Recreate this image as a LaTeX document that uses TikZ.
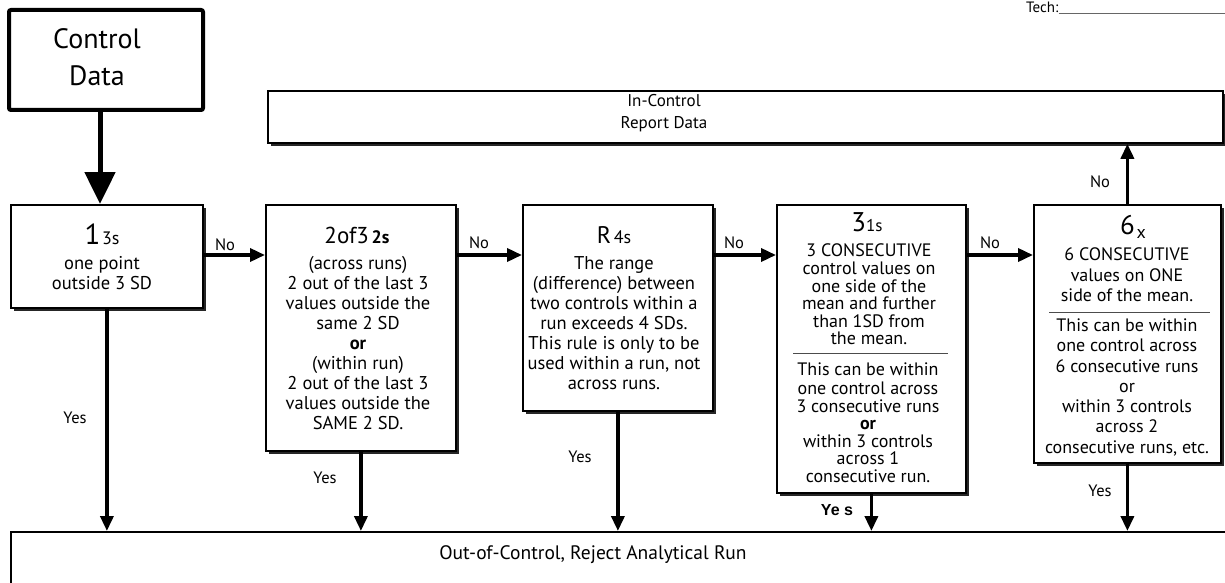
\documentclass[tikz,border=0pt]{standalone}
\usepackage{fontspec}
\setmainfont{PT Sans}
\newfontfamily\arialfont{Liberation Sans}
\usetikzlibrary{arrows.meta,shadows}
\begin{document}
\begin{tikzpicture}[x=1pt,y=-1pt,
  box/.style={draw, line width=1.8pt, fill=white, inner sep=0pt, anchor=north west,
    drop shadow={shadow xshift=3pt, shadow yshift=-3pt, fill=black!85, opacity=1}},
  body/.style={inner sep=0pt, align=center, anchor=north, font=\fontsize{18.5}{20}\selectfont},
  bodyb/.style={inner sep=0pt, align=center, anchor=north, font=\fontsize{18}{17.5}\selectfont},
  ttl/.style={inner sep=0pt, anchor=base},
  lbl/.style={inner sep=0pt, font=\fontsize{16.5}{16.5}\selectfont},
  arr/.style={line width=3.5pt, -{Triangle[length=15pt,width=13pt]}},
  bigarr/.style={line width=5pt, -{Triangle[length=32pt,width=30pt]}},
  sep/.style={line width=0.8pt, black!70}]
\useasboundingbox (0,0) rectangle (1225,583);
\clip (0,0) rectangle (1225,583);
\fill[white] (0,0) rectangle (1225,583);

% Tech line
\node[anchor=base west, inner sep=0pt, font=\fontsize{15}{15}\selectfont] (tech) at (1026,13) {Tech:};
\coordinate (techend) at (1225,13);
\draw[line width=0.8pt, black!60] (tech.base east) -- (techend);

% Control data
\node[draw, line width=4pt, rounded corners=2pt, inner sep=0pt, anchor=north west,
  minimum width=194pt, minimum height=100pt] (cd) at (7,8) {};
\node[inner sep=0pt, align=center, font=\fontsize{28}{37}\selectfont] (cdt) at (97,57) {Control\\Data};

% In-control box
\node[box, minimum width=955pt, minimum height=52pt] (ic) at (267,90) {};
\node[inner sep=0pt, align=center, font=\fontsize{17}{22}\selectfont] (ict) at (664,113) {In-Control\\Report Data};

% Rule boxes
\node[box, minimum width=192pt, minimum height=103pt] (b1) at (10,204) {};
\node[box, minimum width=190pt, minimum height=246pt] (b2) at (265,204) {};
\node[box, minimum width=190pt, minimum height=206pt] (b3) at (522,204) {};
\node[box, minimum width=189pt, minimum height=288pt] (b4) at (776,204) {};
\node[box, minimum width=187pt, minimum height=258pt] (b5) at (1033,204) {};

% Out of control box
\node[draw, line width=1.5pt, inner sep=0pt, anchor=north west,
  minimum width=1240pt, minimum height=90pt] (oc) at (10,531) {};
\node[inner sep=0pt, font=\fontsize{19.5}{19.5}\selectfont] (oct) at (593,555) {Out-of-Control, Reject Analytical Run};

% Titles
\node[ttl] (t1) at (102,244) {{\fontsize{29}{29}\selectfont 1}\,{\fontsize{18}{18}\selectfont 3s}};
\node[ttl] (t2) at (357,243) {{\fontsize{23}{23}\selectfont 2of3}\;{\fontsize{18}{18}\selectfont\bfseries 2s}};
\node[ttl] (t3) at (614,243) {{\fontsize{24}{24}\selectfont R}\;{\fontsize{18}{18}\selectfont 4s}};
\node[ttl] (t4) at (867,231) {{\fontsize{27}{27}\selectfont 3}{\fontsize{17}{17}\selectfont 1s}};
\node[ttl] (t5) at (1133,234) {{\fontsize{27}{27}\selectfont 6}\,\raisebox{-4pt}{\fontsize{18}{18}\selectfont x}};

% Bodies
\node[body] (x1) at (102,255) {\strut one point\\outside 3 SD};
\node[body] (x2) at (358,255) {\strut (across runs)\\2 out of the last 3\\values outside the\\same 2 SD\\\textbf{or}\\(within run)\\2 out of the last 3\\values outside the\\SAME 2 SD.};
\node[body] (x3) at (614,255) {\strut The range\\(difference) between\\two controls within a\\run exceeds 4 SDs.\\This rule is only to be\\used within a run, not\\across runs.};
\node[bodyb] (x4a) at (869,243) {\strut 3 CONSECUTIVE\hspace{28pt}\\control values on\\one side of the\\mean and further\\than 1SD from\\the mean.};
\node[bodyb] (x4b) at (868,363) {\strut This can be within\\one control across\\3 consecutive runs\\\textbf{or}\\within 3 controls\\across 1\\consecutive run.};
\node[body, font=\fontsize{18}{20.5}\selectfont] (x5a) at (1127,246) {\strut 6 CONSECUTIVE\hspace{30pt}\\values on ONE\\side of the mean.};
\node[body, font=\fontsize{18}{20.3}\selectfont] (x5b) at (1127,317) {\strut This can be within\\one control across\\6 consecutive runs\\or\\within 3 controls\\across 2\\consecutive runs, etc.};

% Separators
\draw[sep] (793,353) -- (948,353);
\draw[sep] (1049,312) -- (1210,312);

% Connectors
\coordinate (row) at (0,255);
\draw[bigarr] (cd.south -| 100,0) -- (b1.north -| 100,0);
\draw[arr] (b1.east |- row) -- (b2.west |- row);
\draw[arr] (b2.east |- row) -- (b3.west |- row);
\draw[arr] (b3.east |- row) -- (b4.west |- row);
\draw[arr] (b4.east |- row) -- (b5.west |- row);
\draw[arr] (b5.north) -- (b5.north |- ic.south);
\draw[arr] (b1.south) -- (b1.south |- oc.north);
\draw[arr] (b2.south) -- (b2.south |- oc.north);
\draw[arr] (b3.south) -- (b3.south |- oc.north);
\draw[arr] (b4.south) -- (b4.south |- oc.north);
\draw[arr] (b5.south) -- (b5.south |- oc.north);

% Labels
\node[lbl] (n1) at (225,245) {No};
\node[lbl] (n2) at (479,243) {No};
\node[lbl] (n3) at (734,243) {No};
\node[lbl] (n4) at (990,243) {No};
\node[lbl] (n5) at (1100,182) {No};
\node[lbl] (y1) at (75,418) {Yes};
\node[lbl] (y2) at (325,478) {Yes};
\node[lbl] (y3) at (580,457) {Yes};
\node[lbl, font=\arialfont\bfseries\fontsize{16}{16}\selectfont] (y4) at (837,510) {Ye s};
\node[lbl] (y5) at (1100,491) {Yes};
\end{tikzpicture}
\end{document}
